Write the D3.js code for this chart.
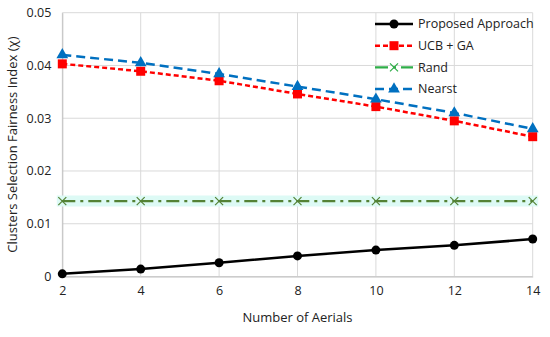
<!DOCTYPE html>
<html>
<head>
<meta charset="utf-8">
<script src="https://cdn.jsdelivr.net/npm/d3@7"></script>
<style>
  body { margin: 0; background: white; }
  text { font-family: "Open Sans", "Noto Sans", sans-serif; fill: #222; }
</style>
</head>
<body>
<div id="chart"></div>
<script>
let w = 550;
let h = 337;

// data
const aerials = [2, 4, 6, 8, 10, 12, 14];
const proposed = [0.0005, 0.0014, 0.0026, 0.0039, 0.0050, 0.0059, 0.0071];
const ucbGa = [0.0403, 0.0389, 0.0371, 0.0346, 0.0322, 0.0295, 0.0265];
const rand = [0.0143, 0.0143, 0.0143, 0.0143, 0.0143, 0.0143, 0.0143];
const nearst = [0.0420, 0.0405, 0.0384, 0.0360, 0.0336, 0.0310, 0.0280];
const yTicks = [0, 0.01, 0.02, 0.03, 0.04, 0.05];

const series = [
  { name: "Proposed Approach", values: proposed, color: "#000000", dash: null, marker: "circle", width: 2.5 },
  { name: "UCB + GA", values: ucbGa, color: "#ff0000", dash: "5,3", marker: "square", width: 2.5 },
  { name: "Rand", values: rand, color: "#548235", legendColor: "#2fae48", dash: "13,5,3,5", marker: "cross", width: 2.2 },
  { name: "Nearst", values: nearst, color: "#0070c0", dash: "9,5", marker: "triangle", width: 2.5 }
];

let svg = d3.select("#chart")
  .append("svg")
  .attr("width", w)
  .attr("height", h);

let x = d3.scaleLinear().domain([2, 14]).range([62.3, 532.7]);
let y = d3.scaleLinear().domain([0, 0.05]).range([276.5, 12.7]);

// gridlines
svg.append("g")
  .selectAll("line.hgrid")
  .data(yTicks)
  .join("line")
  .attr("x1", x(2)).attr("x2", x(14))
  .attr("y1", d => y(d)).attr("y2", d => y(d))
  .attr("stroke", "#d9d9d9")
  .attr("stroke-width", 1);

svg.append("g")
  .selectAll("line.vgrid")
  .data(aerials)
  .join("line")
  .attr("x1", d => x(d)).attr("x2", d => x(d))
  .attr("y1", y(0)).attr("y2", y(0.05))
  .attr("stroke", "#d9d9d9")
  .attr("stroke-width", 1);

// axes
let xAxis = svg.append("g")
  .attr("transform", `translate(0, ${y(0)})`)
  .call(d3.axisBottom(x).tickValues(aerials).tickSize(0).tickPadding(10));
let yAxis = svg.append("g")
  .attr("transform", `translate(${x(2)}, 0)`)
  .call(d3.axisLeft(y).tickValues(yTicks).tickSize(0).tickPadding(11)
    .tickFormat(d => d === 0 ? "0" : d3.format(".2f")(d)));

[xAxis, yAxis].forEach(a => {
  a.select(".domain").attr("stroke", "#bfbfbf");
  a.selectAll("text")
    .attr("font-size", 12.5)
    .attr("font-family", "'Open Sans', sans-serif")
    .attr("fill", "#222");
});

// axis titles
svg.append("text")
  .attr("x", (x(2) + x(14)) / 2)
  .attr("y", 322)
  .attr("text-anchor", "middle")
  .attr("font-size", 13)
  .text("Number of Aerials");

svg.append("text")
  .attr("transform", `translate(17, ${(y(0) + y(0.05)) / 2}) rotate(-90)`)
  .attr("text-anchor", "middle")
  .attr("font-size", 13)
  .text("Clusters Selection Fairness Index (χ)");

// glow band behind Rand
svg.append("path")
  .datum(rand)
  .attr("d", d3.line().x((d, i) => x(aerials[i])).y(d => y(d)))
  .attr("fill", "none")
  .attr("stroke", "#ddfaf5")
  .attr("stroke-width", 11)
  .attr("stroke-linecap", "square");

let line = d3.line()
  .x((d, i) => x(aerials[i]))
  .y(d => y(d));

function drawMarker(g, type, color, cx, cy) {
  if (type === "circle") {
    g.append("circle").attr("cx", cx).attr("cy", cy).attr("r", 4.5).attr("fill", color);
  } else if (type === "square") {
    g.append("rect").attr("x", cx - 4.5).attr("y", cy - 4.5).attr("width", 9).attr("height", 9).attr("fill", color);
  } else if (type === "triangle") {
    g.append("path")
      .attr("transform", `translate(${cx}, ${cy})`)
      .attr("d", d3.symbol(d3.symbolTriangle, 60)())
      .attr("fill", color);
  } else if (type === "cross") {
    g.append("path")
      .attr("d", `M${cx - 4},${cy - 4}L${cx + 4},${cy + 4}M${cx - 4},${cy + 4}L${cx + 4},${cy - 4}`)
      .attr("stroke", color)
      .attr("stroke-width", 1.2);
  }
}

// series
series.forEach(s => {
  let g = svg.append("g");
  g.append("path")
    .datum(s.values)
    .attr("d", line)
    .attr("fill", "none")
    .attr("stroke", s.color)
    .attr("stroke-width", s.width)
    .attr("stroke-dasharray", s.dash);
  s.values.forEach((v, i) => drawMarker(g, s.marker, s.color, x(aerials[i]), y(v)));
});

// legend
let legend = svg.append("g")
  .attr("transform", "translate(375, 24)");

series.forEach((s, i) => {
  let c = s.legendColor || s.color;
  let row = legend.append("g").attr("transform", `translate(0, ${i * 21.7})`);
  row.append("line")
    .attr("x1", 0).attr("x2", 38)
    .attr("y1", 0).attr("y2", 0)
    .attr("stroke", c)
    .attr("stroke-width", s.width)
    .attr("stroke-dasharray", s.dash);
  drawMarker(row, s.marker, c, 19, 0);
  row.append("text")
    .attr("x", 43)
    .attr("y", 0)
    .attr("dy", "0.35em")
    .attr("font-size", 12.5)
    .text(s.name);
});
</script>
</body>
</html>
